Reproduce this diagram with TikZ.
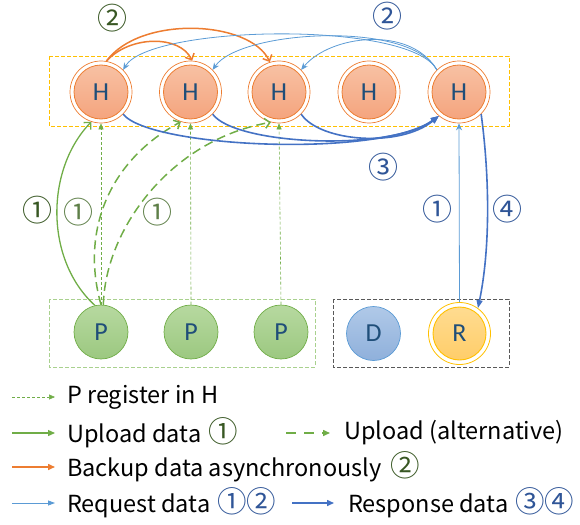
\documentclass[tikz,border=0pt]{standalone}
\usepackage{fontspec}
\setmainfont{Noto Sans CJK JP}
\newfontfamily\letterfont{Carlito}
\usetikzlibrary{arrows.meta}
\definecolor{hOrange}{HTML}{ED7D31}
\definecolor{hTop}{HTML}{F8C3A6}
\definecolor{hBot}{HTML}{F4A27B}
\definecolor{pGreen}{HTML}{70AD47}
\definecolor{pTop}{HTML}{B7D9A0}
\definecolor{pBot}{HTML}{9CC880}
\definecolor{dBlue}{HTML}{5B9BD5}
\definecolor{dTop}{HTML}{B0C9E8}
\definecolor{dBot}{HTML}{8FB0DB}
\definecolor{rYel}{HTML}{FFC000}
\definecolor{rTop}{HTML}{FFDD94}
\definecolor{rBot}{HTML}{FFCC66}
\definecolor{letterBlue}{HTML}{1F4E79}
\definecolor{boxGreen}{HTML}{A9D18E}
\definecolor{boxGray}{HTML}{595959}
\definecolor{reqBlue}{HTML}{5B9BD5}
\definecolor{resBlue}{HTML}{4472C4}
\definecolor{numGreen}{HTML}{385723}
\definecolor{numLight}{HTML}{5E7F48}
\definecolor{numBlue}{HTML}{2F5597}
\newcommand{\bignum}[1]{{\fontsize{29.5}{24}\selectfont #1}}
\begin{document}
\begin{tikzpicture}[x=1pt,y=-1pt,
  letters/.style={font=\letterfont\fontsize{26}{26}\selectfont, text=letterBlue},
  hnode/.style={circle, minimum size=62pt, inner sep=0pt, draw=hOrange, line width=0.7pt, letters,
    path picture={\shade[top color=hTop,bottom color=hBot] (path picture bounding box.center) circle (27pt);
      \draw[hOrange, line width=0.8pt] (path picture bounding box.center) circle (27pt);}},
  pnode/.style={circle, minimum size=54pt, inner sep=0pt, draw=pGreen, line width=0.7pt, top color=pTop, bottom color=pBot, letters},
  dnode/.style={circle, minimum size=54pt, inner sep=0pt, draw=dBlue, line width=0.7pt, top color=dTop, bottom color=dBot, letters},
  rnode/.style={circle, minimum size=62pt, inner sep=0pt, draw=rYel, line width=0.8pt, letters,
    path picture={\shade[top color=rTop,bottom color=rBot] (path picture bounding box.center) circle (26.5pt);
      \draw[rYel, line width=0.9pt] (path picture bounding box.center) circle (26.5pt);}},
  greg/.style={draw=pGreen, line width=0.6pt, dash pattern=on 3pt off 2pt, -{Triangle[length=6pt,width=5pt]}},
  gup/.style={draw=pGreen, line width=1.3pt, -{Straight Barb[length=5pt,width=10pt]}},
  galt/.style={draw=pGreen, line width=1.5pt, dash pattern=on 9pt off 5pt, -{Straight Barb[length=5pt,width=10pt]}},
  bkup/.style={draw=hOrange, line width=1.5pt, -{Straight Barb[length=5pt,width=10pt]}},
  req/.style={draw=reqBlue, line width=0.8pt, -{Stealth[length=7pt,width=6pt]}},
  res/.style={draw=resBlue, line width=1.6pt, -{Triangle[length=8pt,width=6pt]}},
  lgreq/.style={draw=reqBlue, line width=0.8pt, -{Triangle[length=7pt,width=5pt]}},
  lgres/.style={draw=resBlue, line width=1.5pt, -{Triangle[length=7pt,width=6pt]}},
  lgup/.style={draw=pGreen, line width=1.3pt, -{Triangle[length=7pt,width=6pt]}},
  lgalt/.style={draw=pGreen, line width=1.5pt, dash pattern=on 10pt off 8pt, -{Triangle[length=7pt,width=6pt]}},
  lgbk/.style={draw=hOrange, line width=1.5pt, -{Triangle[length=7pt,width=6pt]}},
  num/.style={font=\fontsize{30}{30}\selectfont, inner sep=0pt},
  lgtext/.style={anchor=west, font=\fontsize{23.5}{26}\selectfont, inner sep=0pt},
]
\useasboundingbox (0,0) rectangle (580,524);

% boxes
\draw[rYel, line width=0.8pt, dash pattern=on 4pt off 2pt] (49,56) rectangle (509,126);
\draw[boxGreen, line width=0.8pt, dash pattern=on 4pt off 2pt] (49,299) rectangle (315,367);
\draw[boxGray, line width=0.8pt, dash pattern=on 4pt off 2pt] (333,299) rectangle (509,367);

% nodes
\node[hnode] (H1) at (101,92) {H};
\node[hnode] (H2) at (190.5,92) {H};
\node[hnode] (H3) at (279,92) {H};
\node[hnode] (H4) at (369,92) {H};
\node[hnode] (H5) at (459,92) {H};
\node[pnode] (P1) at (101,332) {P};
\node[pnode] (P2) at (191,332) {P};
\node[pnode] (P3) at (281,332) {P};
\node[dnode] (D) at (373.5,333.5) {D};
\node[rnode] (R) at (459.5,333.5) {R};

% register
\draw[greg] (P1.north) -- (H1.south);
\draw[greg] (P2.north) -- (H2.south);
\draw[greg] (P3.north) -- (H3.south);

% upload
\draw[gup] (P1.103) .. controls (45,260) and (45,170) .. (H1.-108);
\draw[galt] (P1.90) .. controls (80,230) and (110,160) .. (H2.-108);
\draw[galt] (P1.85) .. controls (105,230) and (170,140) .. (H3.-105);

% backup
\draw[bkup] (H1.80) .. controls (130,35) and (180,35) .. (H2.87);
\draw[bkup] (H1.80) .. controls (140,15) and (250,20) .. (H3.107);

% request
\draw[req] (H5.135) .. controls (410,25) and (330,35) .. (H3.45);
\draw[req] (H5.135) .. controls (410,20) and (240,30) .. (H2.45);
\draw[req] (H5.135) .. controls (410,20) and (150,25) .. (H1.45);
\draw[req] (R.north) -- (H5.south);

% response
\draw[res] (H1.-45) .. controls (150,148) and (380,158) .. (H5.-130);
\draw[res] (H2.-45) .. controls (235,145) and (390,152) .. (H5.-130);
\draw[res] (H3.-45) .. controls (320,142) and (400,148) .. (H5.-130);
\draw[res] (H5.-45) .. controls (490,180) and (490,250) .. (R.54);

% labels
\node[num, text=numGreen] (n2a) at (112,18) {②};
\node[num, text=numBlue] (n2b) at (387,16) {②};
\node[num, text=numBlue] (n3) at (383,167) {③};
\node[num, text=numBlue] (n1b) at (437,209) {①};
\node[num, text=numBlue] (n4) at (507,209) {④};
\node[num, text=numGreen] (n1a) at (37,210) {①};
\node[num, text=numLight] (n1c) at (78,212) {①};
\node[num, text=numLight] (n1d) at (157,212) {①};

% legend
\coordinate (l1a) at (12,397); \coordinate (l1b) at (55,397);
\draw[greg] (l1a) -- (l1b);
\node[lgtext] (t1) at (67,397) {P register in H};
\coordinate (l2a) at (12,433); \coordinate (l2b) at (55,433);
\draw[lgup] (l2a) -- (l2b);
\node[lgtext] (t2) at (67,433) {Upload data\hspace{7pt}\textcolor{numGreen}{\bignum{①}}};
\coordinate (l2c) at (286,433); \coordinate (l2d) at (330,433);
\draw[lgalt] (l2c) -- (l2d);
\node[lgtext] (t3) at (344,433) {Upload (alternative)};
\coordinate (l3a) at (12,467); \coordinate (l3b) at (55,467);
\draw[lgbk] (l3a) -- (l3b);
\node[lgtext] (t4) at (67,467) {Backup data asynchronously\hspace{9pt}\textcolor{numGreen}{\bignum{②}}};
\coordinate (l4a) at (12,503); \coordinate (l4b) at (55,503);
\draw[lgreq] (l4a) -- (l4b);
\node[lgtext] (t5) at (67,503) {Request data\hspace{7pt}\textcolor{numBlue}{\bignum{①②}}};
\coordinate (l4c) at (292,503); \coordinate (l4d) at (334,503);
\draw[lgres] (l4c) -- (l4d);
\node[lgtext] (t6) at (348,503) {Response data\hspace{7pt}\textcolor{numBlue}{\bignum{③④}}};
\end{tikzpicture}
\end{document}
